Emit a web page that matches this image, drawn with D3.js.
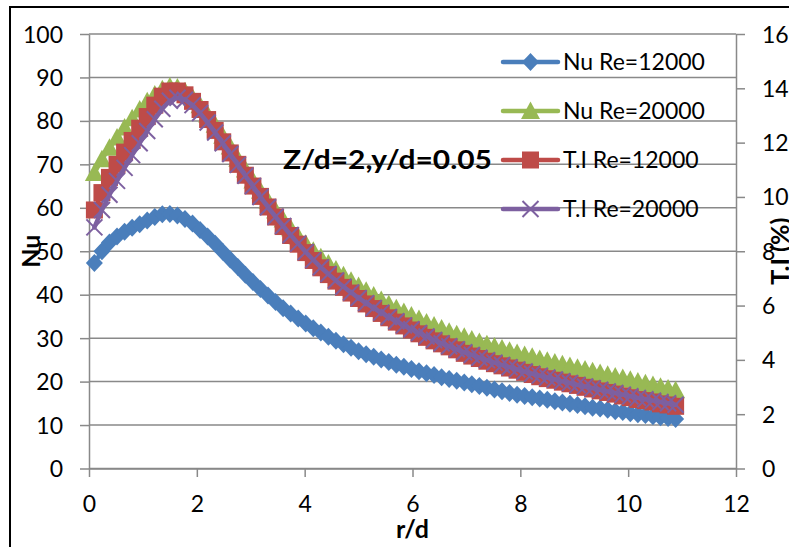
<!DOCTYPE html>
<html>
<head>
<meta charset="utf-8">
<script src="https://cdn.jsdelivr.net/npm/d3@7"></script>
<style>
  html, body { margin: 0; padding: 0; background: #fff; }
  svg { display: block; }
  text { font-family: Lato, "Liberation Sans", sans-serif; fill: #000; }
</style>
</head>
<body>
<svg id="chart" width="789" height="547"></svg>
<script>
// Radial position r/d
const rd = [0.10, 0.24, 0.38, 0.52, 0.66, 0.80, 0.94, 1.08, 1.22, 1.36,
  1.50, 1.64, 1.78, 1.92, 2.06, 2.20, 2.34, 2.48, 2.62, 2.76,
  2.90, 3.04, 3.18, 3.32, 3.46, 3.60, 3.74, 3.88, 4.02, 4.16,
  4.30, 4.44, 4.58, 4.72, 4.86, 5.00, 5.14, 5.28, 5.42, 5.56,
  5.70, 5.84, 5.98, 6.12, 6.26, 6.40, 6.54, 6.68, 6.82, 6.96,
  7.10, 7.24, 7.38, 7.52, 7.66, 7.80, 7.94, 8.08, 8.22, 8.36,
  8.50, 8.64, 8.78, 8.92, 9.06, 9.20, 9.34, 9.48, 9.62, 9.76,
  9.90, 10.04, 10.18, 10.32, 10.46, 10.60, 10.74, 10.88];

// Nusselt number, Re = 12000 (left axis)
const nuRe12000 = [47.3, 50.0, 52.0, 53.4, 54.5, 55.4, 56.2, 57.1, 57.9, 58.5,
  58.6, 58.2, 57.4, 56.4, 54.9, 53.4, 51.7, 49.9, 48.1, 46.4,
  44.6, 42.9, 41.3, 39.8, 38.3, 36.9, 35.7, 34.5, 33.4, 32.3,
  31.3, 30.3, 29.4, 28.6, 27.8, 27.0, 26.3, 25.7, 25.1, 24.5,
  23.9, 23.4, 22.9, 22.4, 21.9, 21.5, 21.0, 20.6, 20.2, 19.8,
  19.4, 19.0, 18.6, 18.2, 17.8, 17.4, 17.0, 16.7, 16.4, 16.1,
  15.8, 15.5, 15.2, 14.9, 14.6, 14.3, 14.0, 13.8, 13.5, 13.2,
  13.0, 12.7, 12.5, 12.3, 12.0, 11.8, 11.6, 11.4];

// Nusselt number, Re = 20000 (left axis)
const nuRe20000 = [68.0, 71.2, 73.8, 76.2, 78.5, 80.6, 82.6, 84.5, 86.1, 87.3,
  87.9, 87.7, 86.8, 85.4, 83.6, 81.5, 79.1, 76.6, 74.1, 71.3,
  68.8, 66.3, 63.9, 61.6, 59.4, 57.3, 55.3, 53.4, 51.7, 50.1,
  48.6, 47.2, 45.8, 44.5, 43.2, 42.0, 40.9, 39.8, 38.8, 37.8,
  36.9, 36.0, 35.2, 34.4, 33.6, 32.9, 32.2, 31.5, 30.9, 30.3,
  29.7, 29.1, 28.6, 28.1, 27.6, 27.1, 26.6, 26.1, 25.7, 25.2,
  24.8, 24.4, 24.0, 23.6, 23.2, 22.8, 22.4, 22.0, 21.6, 21.2,
  20.8, 20.4, 20.0, 19.6, 19.2, 18.8, 18.4, 18.0];

// Turbulence intensity (%), Re = 12000 (right axis)
const tiRe12000 = [9.52, 10.16, 10.72, 11.2, 11.65, 12.08, 12.53, 12.96, 13.38, 13.71,
  13.9, 13.9, 13.76, 13.52, 13.22, 12.85, 12.45, 12.03, 11.62, 11.2,
  10.8, 10.4, 10.02, 9.63, 9.26, 8.91, 8.58, 8.26, 7.95, 7.66,
  7.39, 7.14, 6.9, 6.67, 6.46, 6.26, 6.06, 5.89, 5.71, 5.55,
  5.39, 5.25, 5.1, 4.96, 4.83, 4.7, 4.59, 4.48, 4.37, 4.24,
  4.14, 4.05, 3.95, 3.86, 3.78, 3.7, 3.62, 3.54, 3.46, 3.38,
  3.31, 3.25, 3.18, 3.12, 3.06, 2.99, 2.93, 2.86, 2.8, 2.74,
  2.67, 2.61, 2.54, 2.5, 2.45, 2.38, 2.34, 2.29];

// Turbulence intensity (%), Re = 20000 (right axis)
const tiRe20000 = [8.88, 9.52, 10.08, 10.59, 11.07, 11.54, 11.98, 12.43, 12.86, 13.25,
  13.54, 13.65, 13.58, 13.38, 13.09, 12.74, 12.37, 11.98, 11.58, 11.18,
  10.78, 10.4, 10.0, 9.62, 9.27, 8.93, 8.6, 8.28, 7.97, 7.68,
  7.41, 7.16, 6.92, 6.69, 6.48, 6.28, 6.09, 5.91, 5.74, 5.58,
  5.42, 5.27, 5.13, 4.99, 4.86, 4.73, 4.61, 4.5, 4.39, 4.28,
  4.18, 4.08, 3.99, 3.9, 3.81, 3.73, 3.65, 3.57, 3.49, 3.42,
  3.35, 3.28, 3.21, 3.15, 3.08, 3.02, 2.96, 2.9, 2.84, 2.78,
  2.72, 2.66, 2.6, 2.55, 2.5, 2.45, 2.4, 2.35];

const seriesNames = ["Nu Re=12000", "Nu Re=20000", "T.I Re=12000", "T.I Re=20000"];
const xTicks = [0, 2, 4, 6, 8, 10, 12];
const nuTicks = [0, 10, 20, 30, 40, 50, 60, 70, 80, 90, 100];
const tiTicks = [0, 2, 4, 6, 8, 10, 12, 14, 16];
const annotation = "Z/d=2,y/d=0.05";

// ---- layout ----
const svg = d3.select("#chart");
const plot = { left: 89, right: 736, top: 34, bottom: 468.5 };
const gridColor = "#898989";
const fontSize = 23;

const x = d3.scaleLinear().domain([0, 12]).range([plot.left, plot.right]);
const yNu = d3.scaleLinear().domain([0, 100]).range([plot.bottom, plot.top]);
const yTi = d3.scaleLinear().domain([0, 16]).range([plot.bottom, plot.top]);

// chart-area border
svg.append("rect")
  .attr("x", 10).attr("y", 7).attr("width", 820).attr("height", 600)
  .attr("fill", "none").attr("stroke", "#000").attr("stroke-width", 2);

// horizontal gridlines
svg.append("g").selectAll("line").data(nuTicks).join("line")
  .attr("x1", plot.left).attr("x2", plot.right)
  .attr("y1", d => yNu(d)).attr("y2", d => yNu(d))
  .attr("stroke", gridColor).attr("stroke-width", 1.5);

function styleAxis(g) {
  g.select(".domain").attr("stroke", gridColor).attr("stroke-width", 1.5);
  g.selectAll(".tick line").attr("stroke", gridColor).attr("stroke-width", 1.5);
  g.selectAll(".tick text").attr("font-size", fontSize).attr("fill", "#000")
    .attr("font-family", "Lato, 'Liberation Sans', sans-serif");
}

// left axis (Nu)
const gLeft = svg.append("g").attr("transform", `translate(${plot.left},0)`)
  .call(d3.axisLeft(yNu).tickValues(nuTicks).tickSize(9).tickSizeOuter(0).tickPadding(17));
styleAxis(gLeft);
gLeft.selectAll(".tick text").attr("dy", null).attr("y", 8);

// right axis (T.I)
const gRight = svg.append("g").attr("transform", `translate(${plot.right},0)`)
  .call(d3.axisRight(yTi).tickValues(tiTicks).tickSize(9).tickSizeOuter(0).tickPadding(17));
styleAxis(gRight);
gRight.selectAll(".tick text").attr("dy", null).attr("y", 8);

// bottom axis (r/d)
const gBottom = svg.append("g").attr("transform", `translate(0,${plot.bottom})`)
  .call(d3.axisBottom(x).tickValues(xTicks).tickSize(8.5).tickSizeOuter(0));
styleAxis(gBottom);
gBottom.selectAll(".tick text").attr("dy", null).attr("y", 43.5);

// ---- marker shapes ----
const markers = {
  diamond: (g, color) => g.append("path").attr("d", "M0,-9L8.5,0L0,9L-8.5,0Z").attr("fill", color),
  triangle: (g, color) => g.append("path").attr("d", "M0,-9.5L9.5,8L-9.5,8Z").attr("fill", color),
  square: (g, color) => g.append("rect").attr("x", -8.5).attr("y", -8.5).attr("width", 17).attr("height", 17).attr("fill", color),
  cross: (g, color) => g.append("path").attr("d", "M-8,-8L8,8M8,-8L-8,8").attr("fill", "none")
    .attr("stroke", color).attr("stroke-width", 2)
};

const series = [
  { name: seriesNames[0], values: nuRe12000, y: yNu, color: "#4A7EBB", marker: "diamond" },
  { name: seriesNames[1], values: nuRe20000, y: yNu, color: "#98B954", marker: "triangle" },
  { name: seriesNames[2], values: tiRe12000, y: yTi, color: "#BE4B48", marker: "square" },
  { name: seriesNames[3], values: tiRe20000, y: yTi, color: "#7D60A0", marker: "cross" }
];

const gSeries = svg.append("g");
series.forEach(s => {
  const pts = rd.map((r, i) => [x(r), s.y(s.values[i])]);
  gSeries.append("path")
    .attr("d", d3.line()(pts))
    .attr("fill", "none").attr("stroke", s.color).attr("stroke-width", 4.5)
    .attr("stroke-linejoin", "round").attr("stroke-linecap", "round");
  const gm = gSeries.append("g");
  pts.forEach(p => {
    const m = gm.append("g").attr("transform", `translate(${p[0]},${p[1]})`);
    markers[s.marker](m, s.color);
  });
});

// ---- legend ----
const legend = svg.append("g");
series.forEach((s, i) => {
  const ly = 62 + i * 49;
  legend.append("line").attr("x1", 503).attr("x2", 558).attr("y1", ly).attr("y2", ly)
    .attr("stroke", s.color).attr("stroke-width", 4.5).attr("stroke-linecap", "round");
  const m = legend.append("g").attr("transform", `translate(530.5,${ly})`);
  markers[s.marker](m, s.color);
  legend.append("text").attr("x", 563).attr("y", ly + 8.3)
    .attr("font-size", fontSize).text(s.name);
});

// ---- titles ----
svg.append("text")
  .attr("transform", `translate(40,${(plot.top + plot.bottom) / 2}) rotate(-90)`)
  .attr("text-anchor", "middle").attr("font-size", 25).attr("font-weight", "bold")
  .text("Nu");
svg.append("text")
  .attr("transform", `translate(789,${(plot.top + plot.bottom) / 2}) rotate(-90)`)
  .attr("text-anchor", "middle").attr("font-size", 25).attr("font-weight", "bold")
  .text("T.I (%)");
svg.append("text")
  .attr("x", (plot.left + plot.right) / 2).attr("y", 538)
  .attr("text-anchor", "middle").attr("font-size", 25).attr("font-weight", "bold")
  .text("r/d");
svg.append("text")
  .attr("x", 283).attr("y", 169)
  .attr("font-size", 27.5).attr("font-weight", "bold")
  .attr("textLength", 209).attr("lengthAdjust", "spacingAndGlyphs")
  .text(annotation);
</script>
</body>
</html>
